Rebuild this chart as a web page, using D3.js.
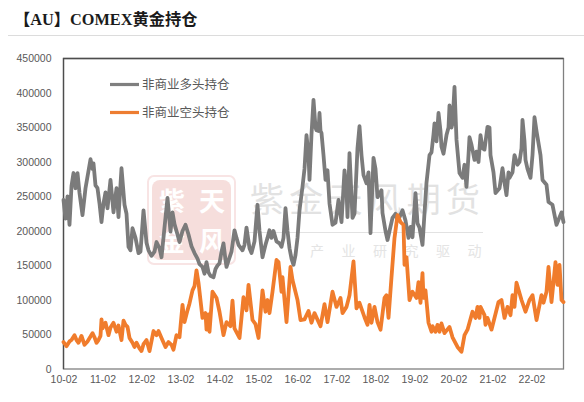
<!DOCTYPE html>
<html><head><meta charset="utf-8">
<script src="https://cdn.jsdelivr.net/npm/d3@7"></script>
<style>html,body{margin:0;padding:0;background:#fff}svg{display:block}</style></head>
<body><svg id="c" width="584" height="402"></svg>
<script>
// observation index: roughly 39 observations per year, starting 10-02
const tickLabels = ["10-02","11-02","12-02","13-02","14-02","15-02","16-02","17-02","18-02","19-02","20-02","21-02","22-02"];
const tickIndex = [0,39,78,117,156,195,234,273,312,351,390,429,468];
const yTicks = [0,50000,100000,150000,200000,250000,300000,350000,400000,450000];
const longIndex = [0,2,4,6,8,10,12,14,16,19,22,27,29,30,32,34,36,38,40,42,44,47,50,53,55,58,61,63,65,67,69,72,75,77,80,83,85,88,91,93,96,98,101,104,107,109,111,114,116,119,122,125,128,131,134,136,139,141,143,145,147,150,152,154,156,158,160,162,163,165,168,171,173,175,179,181,183,186,188,191,194,196,199,202,204,206,208,210,213,216,218,220,222,224,226,228,230,232,234,236,239,241,243,245,246,248,250,252,253,255,256,257,258,260,262,264,266,269,272,275,278,281,283,284,286,289,291,294,296,298,300,303,305,307,310,312,314,318,319,322,324,326,329,332,334,336,339,342,345,347,349,352,354,356,359,361,363,366,368,370,371,373,375,377,378,380,383,385,386,388,389,391,392,393,396,399,401,403,405,406,408,411,413,415,417,419,421,424,426,427,430,432,436,439,441,443,445,446,449,451,454,456,458,459,461,462,464,467,469,471,473,474,477,479,483,485,489,493,498,500];
const longValues = [245,218,250,209,265,284,262,284,255,223,262,304,290,298,266,262,240,213,240,256,233,274,227,262,220,291,238,225,177,172,204,190,168,170,230,183,172,164,170,184,175,162,205,248,199,227,210,195,184,200,209,195,178,168,160,152,148,138,155,140,135,133,145,150,153,170,182,158,148,157,170,201,190,180,172,180,205,175,168,185,238,200,162,180,190,201,190,200,185,182,177,190,233,200,175,160,151,165,190,230,264,290,339,310,274,340,390,350,346,345,371,345,342,310,274,288,240,209,212,245,213,288,260,220,313,219,225,320,352,310,281,269,285,197,306,290,249,259,226,200,187,200,219,225,215,220,230,215,190,206,191,255,211,205,180,226,270,310,314,340,356,330,371,345,322,312,339,350,382,350,356,409,370,332,284,277,296,264,310,336,325,303,315,300,339,320,318,351,350,310,285,255,262,291,270,252,285,277,285,310,296,300,320,361,330,303,290,277,310,365,345,336,310,274,267,242,238,209,227,213];
const shortIndex = [0,3,6,8,11,13,15,18,21,24,27,29,31,33,35,37,38,39,42,45,47,50,53,55,58,60,62,64,66,69,71,73,76,78,80,83,86,90,93,95,98,102,105,108,110,113,116,119,121,124,126,129,131,133,135,139,142,143,145,146,149,153,156,160,163,167,169,171,176,180,183,185,189,192,195,199,202,204,206,209,213,215,218,219,223,227,229,234,237,241,245,248,251,257,261,264,269,273,277,279,283,286,290,293,296,301,304,306,308,311,314,317,321,323,325,328,331,334,337,340,341,343,346,349,353,355,357,359,360,362,365,368,369,372,374,376,378,381,386,389,394,398,401,404,409,412,414,416,417,421,422,424,428,435,438,441,444,447,449,451,453,458,462,466,469,473,478,480,483,485,488,492,494,496,498,500];
const shortValues = [39,33,40,42,49,42,38,48,35,40,47,52,46,38,42,48,72,59,67,49,60,67,54,63,42,70,64,61,45,38,32,38,30,26,36,42,26,55,49,55,45,32,39,35,28,49,46,93,68,85,95,114,120,143,125,74,81,57,79,54,112,103,83,49,68,62,99,59,45,104,85,122,71,65,45,114,83,100,81,112,158,155,112,133,68,148,129,100,71,72,84,67,81,62,94,68,112,90,103,81,90,107,156,88,96,75,64,93,67,90,68,57,103,107,74,133,190,223,213,209,151,162,100,112,103,126,96,139,103,114,67,54,62,54,64,54,66,52,61,46,32,25,49,57,83,74,90,74,90,78,64,74,57,97,100,74,90,78,107,90,125,100,83,100,107,71,107,96,112,148,97,155,122,151,100,97];
const longName = "非商业多头持仓", shortName = "非商业空头持仓";
const titleText = "【AU】COMEX黄金持仓";

const svg = d3.select("#c");
const L=63.5,R=563.5,T=58.5,B=369;
const x = d3.scaleLinear().domain([0,500]).range([L,R]);
const y = d3.scaleLinear().domain([0,450000]).range([B,T]);

// header
svg.append("text").attr("x",14).attr("y",25).attr("font-family","'Liberation Serif','Noto Sans CJK SC'")
  .attr("font-weight",700).attr("font-size",16.3).attr("fill","#1a1a1a").text(titleText);
svg.append("line").attr("x1",8).attr("x2",584).attr("y1",35.5).attr("y2",35.5).attr("stroke","#dcdcdc");

// watermark
const wm = svg.append("g");
wm.append("rect").attr("x",148).attr("y",176).attr("width",87).attr("height",88).attr("rx",6).attr("fill","none").attr("stroke","#f8e4e4").attr("stroke-width",2);
wm.append("rect").attr("x",152).attr("y",180).attr("width",79).attr("height",80).attr("rx",8).attr("fill","#f6dedc");
[["紫",172,211],["天",212,211],["金",172,251],["风",212,251]].forEach(d=>{
  wm.append("text").attr("x",d[1]).attr("y",d[2]).attr("text-anchor","middle").attr("font-family","'Noto Sans CJK SC'").attr("font-weight",700).attr("font-size",26).attr("fill","#fff").text(d[0]);
});
wm.append("text").attr("x",250).attr("y",212).attr("font-family","'Noto Sans CJK SC'").attr("font-size",34).attr("letter-spacing",5.2).attr("fill","#e2e2e2").text("紫金天风期货");
wm.append("line").attr("x1",249).attr("x2",483).attr("y1",232.5).attr("y2",232.5).attr("stroke","#e2e2e2");
wm.append("text").attr("x",310).attr("y",256).attr("font-family","'Noto Sans CJK SC'").attr("font-size",14).attr("letter-spacing",17.5).attr("fill","#e4e4e4").text("产业研究驱动");

// axes
const ay = svg.append("g").attr("transform",`translate(${L},0)`).call(d3.axisLeft(y).tickValues(yTicks).tickSize(0).tickPadding(12).tickFormat(d3.format("d")));
const ax = svg.append("g").attr("transform",`translate(0,${B})`).call(d3.axisBottom(x).tickValues(tickIndex).tickSize(0).tickPadding(7).tickFormat((d,i)=>tickLabels[i]));
[ay,ax].forEach(a=>{a.select(".domain").remove();a.selectAll("text").attr("font-family","'Liberation Sans'").attr("font-size",10.5).attr("fill","#595959");});
svg.append("rect").attr("x",L).attr("y",T).attr("width",R-L).attr("height",B-T).attr("fill","none").attr("stroke","#808080").attr("stroke-width",1.3);
svg.append("path").attr("d",`M${L},${B}V${T}H${R}`).attr("fill","none").attr("stroke","#4d4d4d").attr("stroke-width",1.3);

// series
const line = d3.line().x(d=>x(d[0])).y(d=>y(d[1]*1000));
const longSeries = d3.zip(longIndex,longValues), shortSeries = d3.zip(shortIndex,shortValues);
svg.append("path").attr("d",line(longSeries)).attr("fill","none").attr("stroke","#7b7b7b").attr("stroke-width",3.8).attr("stroke-linejoin","round").attr("stroke-linecap","round");
svg.append("path").attr("d",line(shortSeries)).attr("fill","none").attr("stroke","#f07c2c").attr("stroke-width",3.8).attr("stroke-linejoin","round").attr("stroke-linecap","round");

// legend
[[longName,"#7f7f7f",84.5],[shortName,"#ed7d31",112.5]].forEach(d=>{
  svg.append("line").attr("x1",110).attr("x2",139).attr("y1",d[2]).attr("y2",d[2]).attr("stroke",d[1]).attr("stroke-width",3.2);
  svg.append("text").attr("x",142).attr("y",d[2]+4.5).attr("font-family","'Noto Sans CJK SC'").attr("font-size",12.5).attr("fill","#595959").text(d[0]);
});
</script></body></html>
